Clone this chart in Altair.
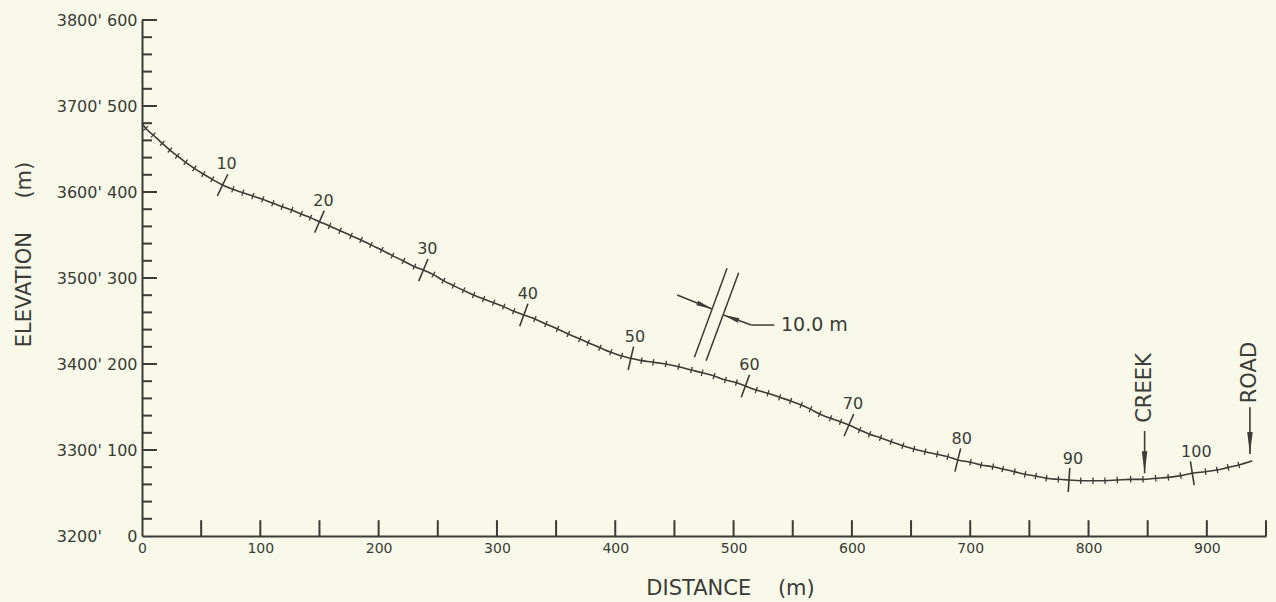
import math

import altair as alt
import pandas as pd

# Slope stations along the transect: horizontal distance (m) and elevation (m)
STATION_DIST = [
    0, 3.1, 9.5, 17.1, 23.6, 29.8, 36.9, 44.2, 51.8, 59.4, 68.1,
    76.8, 85.2, 93.7, 102.1, 110.6, 118.5, 126.6, 134.5, 142.4, 150.0,
    158.5, 167.4, 176.7, 185.2, 193.5, 202.6, 211.7, 221.0, 230.2, 237.8,
    246.3, 254.8, 263.3, 271.8, 280.3, 288.7, 297.2, 305.7, 314.2, 322.7,
    332.1, 341.4, 351.2, 360.3, 370.1, 377.1, 387.0, 396.3, 405.3, 413.2,
    422.2, 432.1, 442.8, 453.6, 464.4, 473.4, 483.5, 493.1, 502.4, 510.0,
    519.2, 529.1, 538.9, 548.2, 557.2, 565.0, 572.7, 582.0, 590.4, 597.5,
    606.5, 615.0, 624.2, 633.2, 643.1, 652.4, 661.9, 672.1, 681.1, 689.5,
    700.2, 709.2, 719.1, 727.5, 737.4, 746.4, 755.4, 764.4, 774.5, 783.5,
    793.4, 803.8, 813.9, 824.3, 835.6, 846.0, 856.7, 867.4, 877.8, 887.7,
    898.9, 908.7, 918.0, 927.0,
]
STATION_ELEV = [
    480.0, 474.0, 466.3, 456.6, 448.8, 441.9, 434.5, 427.5, 420.9, 414.7, 408.1,
    403.1, 399.2, 395.3, 391.5, 386.8, 382.9, 379.1, 374.4, 370.2, 365.5,
    360.5, 355.0, 349.2, 344.2, 338.5, 332.6, 326.0, 319.8, 313.2, 309.3,
    303.9, 296.9, 291.1, 285.6, 280.2, 275.6, 271.3, 266.7, 261.3, 257.0,
    252.3, 246.5, 240.7, 234.9, 229.1, 224.8, 219.0, 213.6, 209.3, 206.6,
    203.9, 202.0, 200.0, 196.9, 193.0, 189.9, 186.0, 181.4, 178.3, 174.4,
    169.8, 165.9, 161.3, 157.0, 152.3, 147.5, 141.8, 136.8, 132.9, 129.1,
    123.3, 118.3, 114.3, 109.7, 105.0, 101.2, 98.0, 95.0, 92.2, 88.4,
    85.7, 82.6, 80.6, 77.9, 74.8, 71.7, 69.8, 67.1, 65.9, 65.1,
    64.3, 64.3, 64.3, 65.1, 65.9, 65.9, 67.1, 68.2, 70.2, 72.9,
    74.8, 76.7, 79.8, 82.6,
]
# The drawn profile runs on a little past the last station
END_DIST = 938.3
END_ELEV = 87.6
LABEL_EVERY = 10

# Axes
DIST_LABELS = list(range(0, 901, 100))
DIST_TICKS = list(range(50, 951, 50))
ELEV_M = [0, 100, 200, 300, 400, 500, 600]
ELEV_FT = [3200, 3300, 3400, 3500, 3600, 3700, 3800]
ELEV_TICKS = list(range(20, 601, 20))

# Landmarks: arrow tail, arrow tip and label centre in elevation units
LANDMARK_NAME = ["CREEK", "ROAD"]
LANDMARK_DIST = [847.4, 936.4]
LANDMARK_TAIL = [122.1, 149.7]
LANDMARK_TIP = [72.9, 95.3]
LANDMARK_TEXT = [172.0, 190.0]

# Key for the station spacing: two parallel strokes with pointers
KEY_STROKES = [((494.5, 311.3), (466.9, 207.8)), ((504.3, 306.2), (476.8, 203.8))]
KEY_POINTER_L = [(452.3, 280.2), (481.9, 264.0)]
KEY_POINTER_R = [(534.4, 245.3), (515.0, 245.3), (491.5, 257.0)]
KEY_TEXT = "10.0 m"
KEY_TEXT_AT = (540.1, 245.3)

INK = "#3a3c35"
BG = "#f8f9e9"
FONT = "DejaVu Sans"

W, H = 1124, 516
X_MAX, Y_MAX = 950, 600
KX, KY = W / X_MAX, H / Y_MAX

xs = alt.Scale(domain=[0, X_MAX], nice=False, zero=False)
ys = alt.Scale(domain=[0, Y_MAX], nice=False, zero=False)

TICK = "M0,-1L0,1"
HEAD = "M-0.25,-2L0.25,-2L0,0Z"


def head_angle(x0, y0, x1, y1):
    """Rotation (deg, clockwise) turning a downward arrowhead toward (x1, y1)."""
    dx = (x1 - x0) * KX
    dy = -(y1 - y0) * KY
    return math.degrees(math.atan2(-dx, dy)) % 360


# profile line
line_x = STATION_DIST + [END_DIST]
line_y = STATION_ELEV + [END_ELEV]
profile = pd.DataFrame({"dist": line_x, "elev": line_y, "order": range(len(line_x))})

# station cross-ticks, drawn square to the profile on screen
rows = []
for i in range(1, len(STATION_DIST)):
    a, b = i - 1, i + 1
    dx = (line_x[b] - line_x[a]) * KX
    dy = -(line_y[b] - line_y[a]) * KY
    rows.append({
        "station": i,
        "dist": STATION_DIST[i],
        "elev": STATION_ELEV[i],
        "ang": math.degrees(math.atan2(dy, dx)) % 180,
        "major": i % LABEL_EVERY == 0,
    })
stations = pd.DataFrame(rows)
minor_st = stations[~stations["major"]]
major_st = stations[stations["major"]]

label_expr = ""
for m, ft in zip(ELEV_M, ELEV_FT):
    txt = f"{ft}' " + str(m).rjust(3, "\u2007")
    label_expr += f"datum.value == {m} ? \"{txt}\" : "
label_expr += "''"

x_axis = alt.Axis(
    values=DIST_LABELS, ticks=False, grid=False, labelFlush=False,
    domainColor=INK, domainWidth=2, labelColor=INK, labelFont=FONT,
    labelFontSize=14, labelPadding=5,
    title="DISTANCE\u00a0\u00a0\u00a0\u00a0(m)", titleFont=FONT, titleFontSize=21,
    titleFontWeight="normal", titleColor=INK, titleX=588, titleY=52,
    titleAlign="center", titleBaseline="middle",
)
y_axis = alt.Axis(
    values=ELEV_M, ticks=False, grid=False, labelExpr=label_expr,
    domainColor=INK, domainWidth=2, labelColor=INK, labelFont=FONT,
    labelFontSize=16, labelPadding=5,
    title="ELEVATION\u00a0\u00a0\u00a0\u00a0\u00a0(m)", titleFont=FONT, titleFontSize=21,
    titleFontWeight="normal", titleColor=INK, titleAngle=270, titleX=-118,
    titleY=234, titleAlign="center", titleBaseline="middle",
)


def pos(xf="dist", yf="elev"):
    # every layer carries the same scales and axes so they merge cleanly
    return {
        "x": alt.X(f"{xf}:Q", scale=xs, axis=x_axis),
        "y": alt.Y(f"{yf}:Q", scale=ys, axis=y_axis),
    }


line = alt.Chart(profile).mark_line(
    color=INK, strokeWidth=1.6, interpolate="monotone"
).encode(**pos(), order="order:Q")

minor_ticks = alt.Chart(minor_st).mark_point(
    shape=TICK, size=42, strokeWidth=1.3, color=INK, opacity=1, filled=False
).encode(**pos(), angle=alt.Angle("ang:Q", scale=None))

major_ticks = alt.Chart(major_st).mark_point(
    shape=TICK, size=576, strokeWidth=1.6, color=INK, opacity=1, filled=False
).encode(**pos(), angle=alt.Angle("ang:Q", scale=None))

station_labels = alt.Chart(major_st).mark_text(
    font=FONT, fontSize=16, color=INK, dx=4, dy=-21, align="center", baseline="middle"
).encode(**pos(), text="station:Q")

# axis ticks drawn inward from the axis lines
x_tick_df = pd.DataFrame({"dist": DIST_TICKS, "elev": 0})
x_ticks = alt.Chart(x_tick_df).mark_point(
    shape="M0,0L0,-1", size=1000, strokeWidth=2, color=INK, opacity=1, filled=False
).encode(**pos())

y_tick_df = pd.DataFrame({
    "dist": 0,
    "elev": ELEV_TICKS,
    "sz": [900 if v % 100 == 0 else 400 for v in ELEV_TICKS],
})
y_ticks = alt.Chart(y_tick_df).mark_point(
    shape="M0,0L1,0", strokeWidth=2, color=INK, opacity=1, filled=False
).encode(**pos(), size=alt.Size("sz:Q", scale=None))

# landmarks
lm = pd.DataFrame({
    "name": LANDMARK_NAME, "dist": LANDMARK_DIST, "tail": LANDMARK_TAIL,
    "tip": LANDMARK_TIP, "text_y": LANDMARK_TEXT,
})
lm_shaft = alt.Chart(lm).mark_rule(color=INK, strokeWidth=1.6).encode(
    **pos("dist", "tail"), y2="tip:Q",
)
lm_head = alt.Chart(lm).mark_point(
    shape=HEAD, size=484, filled=True, color=INK, opacity=1
).encode(**pos("dist", "tip"))
lm_text = alt.Chart(lm).mark_text(
    font=FONT, fontSize=21, color=INK, angle=270, align="center", baseline="middle"
).encode(**pos("dist", "text_y"), text="name:N")

# station-spacing key
segs = list(KEY_STROKES)
segs += [tuple(KEY_POINTER_L)]
segs += [(KEY_POINTER_R[0], KEY_POINTER_R[1]), (KEY_POINTER_R[1], KEY_POINTER_R[2])]
seg_df = pd.DataFrame([
    {"x": p[0], "y": p[1], "x2": q[0], "y2": q[1]} for p, q in segs
])
key_lines = alt.Chart(seg_df).mark_rule(color=INK, strokeWidth=1.5).encode(
    **pos("x", "y"), x2="x2:Q", y2="y2:Q",
)
heads = [
    (KEY_POINTER_L[0], KEY_POINTER_L[1]),
    (KEY_POINTER_R[1], KEY_POINTER_R[2]),
]
head_df = pd.DataFrame([
    {"x": q[0], "y": q[1], "ang": head_angle(p[0], p[1], q[0], q[1])} for p, q in heads
])
key_heads = alt.Chart(head_df).mark_point(
    shape="M-0.3,-2L0.3,-2L0,0Z", size=256, filled=True, color=INK, opacity=1
).encode(**pos("x", "y"), angle=alt.Angle("ang:Q", scale=None))
key_text = alt.Chart(
    pd.DataFrame({"x": [KEY_TEXT_AT[0]], "y": [KEY_TEXT_AT[1]], "t": [KEY_TEXT]})
).mark_text(
    font=FONT, fontSize=19, color=INK, align="left", baseline="middle"
).encode(**pos("x", "y"), text="t:N")

chart = alt.layer(
    line, minor_ticks, major_ticks, station_labels, x_ticks, y_ticks,
    lm_shaft, lm_head, lm_text, key_lines, key_heads, key_text,
).properties(
    width=W,
    height=H,
    padding={"left": 142, "top": 20, "right": 10, "bottom": 66},
    autosize=alt.AutoSizeParams(type="none"),
    background=BG,
).configure_view(stroke=None)

chart.save("out.html", embed_options={"renderer": "svg", "actions": False})
